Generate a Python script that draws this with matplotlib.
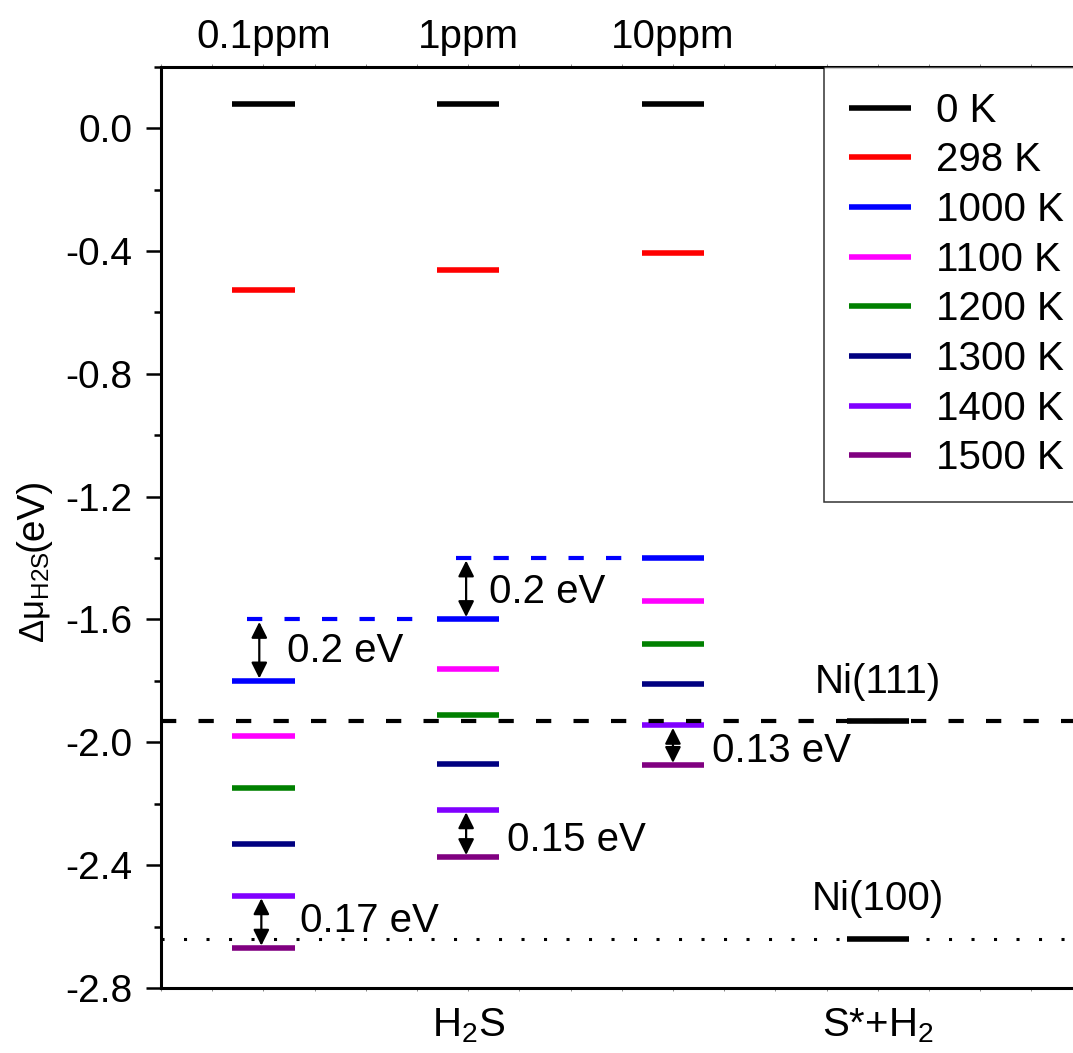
import numpy as np
import matplotlib.pyplot as plt
from matplotlib.ticker import MultipleLocator

plt.rcParams['font.family'] = ['Liberation Sans', 'DejaVu Sans']
plt.rcParams['mathtext.fontset'] = 'custom'
plt.rcParams['mathtext.rm'] = 'Liberation Sans'
plt.rcParams['mathtext.it'] = 'Liberation Sans:italic'
plt.rcParams['axes.unicode_minus'] = False
plt.rcParams['lines.scale_dashes'] = False

# columns (H2S partial pressure)
columns = ['0.1ppm', '1ppm', '10ppm']
col_x = np.array([1, 2, 3])
temps = ['0 K', '298 K', '1000 K', '1100 K', '1200 K', '1300 K', '1400 K', '1500 K']
colors = ['#000000', '#FF0000', '#0000FF', '#FF00FF', '#008000', '#000080', '#8000FF', '#800080']
# delta mu (eV): one row per temperature, cols 0.1ppm / 1ppm / 10ppm
levels = [
    [0.08, 0.08, 0.08],
    [-0.527, -0.462, -0.407],
    [-1.80, -1.60, -1.40],
    [-1.98, -1.76, -1.54],
    [-2.15, -1.91, -1.68],
    [-2.33, -2.07, -1.81],
    [-2.50, -2.22, -1.945],
    [-2.67, -2.375, -2.075],
]
# surface reference levels (S* + H2)
ni_names = ['Ni(111)', 'Ni(100)']
ni_levels = [-1.93, -2.64]
ni_x = 4

# gap arrows: x, top, bottom, label
gap_x = [0.98, 1.99, 1.99, 0.99, 3.0]
gap_top = [-1.60, -1.40, -2.22, -2.50, -1.945]
gap_bot = [-1.80, -1.60, -2.375, -2.67, -2.075]
gap_lbl = ['0.2 eV', '0.2 eV', '0.15 eV', '0.17 eV', '0.13 eV']
lbl_x = [1.115, 2.10, 2.19, 1.18, 3.19]
lbl_y = [-1.738, -1.547, -2.354, -2.617, -2.064]

half = 0.152

fig = plt.figure(figsize=(10.73, 10.53), dpi=100)
ax = fig.add_axes([161 / 1073, 1 - 988 / 1053, (1082.5 - 161) / 1073, (988 - 66.7) / 1053])

for i, t in enumerate(temps):
    ax.hlines(levels[i], col_x - half, col_x + half, colors=colors[i], lw=4,
              label=t, zorder=3, capstyle='butt')

# Ni reference bars
ax.hlines(ni_levels, ni_x - half, ni_x + half, colors='black', lw=4, zorder=3)
for n, v in zip(ni_names, ni_levels):
    off = 0.09 if n == 'Ni(111)' else 0.093
    ax.text(ni_x, v + off, n, ha='center', va='baseline', fontsize=29)

# reference lines
ax.axhline(ni_levels[0], color='black', lw=3, ls=(0, (11, 16)), zorder=4)
ax.axhline(ni_levels[1], color='black', lw=2.2, ls=(0, (2.2, 14)), zorder=2)

# blue dashed connectors for 1000 K shift
ax.hlines(levels[2][1], 0.92, 1.80, colors='#0000FF', lw=3, linestyles=[(0, (11, 16))], zorder=2)
ax.hlines(levels[2][2], 1.94, 2.80, colors='#0000FF', lw=3, linestyles=[(0, (11, 16))], zorder=2)

for x, y0, y1 in zip(gap_x, gap_top, gap_bot):
    ax.annotate('', xy=(x, y1 + 0.008), xytext=(x, y0 - 0.008),
                arrowprops=dict(arrowstyle='<|-|>', color='black', lw=1.6,
                                mutation_scale=24, shrinkA=0, shrinkB=0), zorder=5)
for x, y, s in zip(lbl_x, lbl_y, gap_lbl):
    ax.text(x, y, s, ha='left', va='baseline', fontsize=29)

for x, s in zip(col_x, columns):
    ax.text(x, 0.261, s, ha='center', va='baseline', fontsize=29, clip_on=False)

ax.set_xlim(0.5, 5.0)
ax.set_ylim(-2.8, 0.2)

ax.yaxis.set_major_locator(MultipleLocator(0.4))
ax.yaxis.set_minor_locator(MultipleLocator(0.2))
ax.yaxis.set_major_formatter(plt.FormatStrFormatter('%.1f'))
ax.tick_params(axis='y', which='major', direction='out', length=10.8, width=1.8,
               labelsize=28, pad=10)
ax.tick_params(axis='y', which='minor', direction='out', length=5, width=1.8)

ax.set_xticks([2, 4], labels=['H$_2$S', 'S*+H$_2$'])
ax.xaxis.set_minor_locator(MultipleLocator(0.25))
ax.xaxis.remove_overlapping_locs = False
ax.tick_params(axis='x', which='major', length=0, labelsize=29, pad=13)
ax.tick_params(axis='x', which='minor', direction='out', length=2, width=0.7,
               color='#888888', top=True, bottom=True)

for s in ['left', 'top', 'bottom']:
    ax.spines[s].set_linewidth(2.2)
ax.spines['right'].set_visible(False)

leg = ax.legend(loc='upper left', bbox_to_anchor=(0.7195, 1.0), borderaxespad=0,
                fontsize=29, frameon=True, fancybox=False, edgecolor='black',
                handlelength=1.55, handletextpad=0.6, borderpad=0.62, labelspacing=0.29)
leg.get_frame().set_linewidth(1.1)

# y label, two sizes like the original
fig.text(43 / 1073, 1 - 643 / 1053, 'Δμ$_{\\mathrm{H2S}}$', rotation=90,
         rotation_mode='anchor', ha='left', va='baseline', fontsize=25)
fig.text(43 / 1073, 1 - 551 / 1053, '(eV)', rotation=90,
         rotation_mode='anchor', ha='left', va='baseline', fontsize=28)

fig.savefig('out.png', dpi=100)
